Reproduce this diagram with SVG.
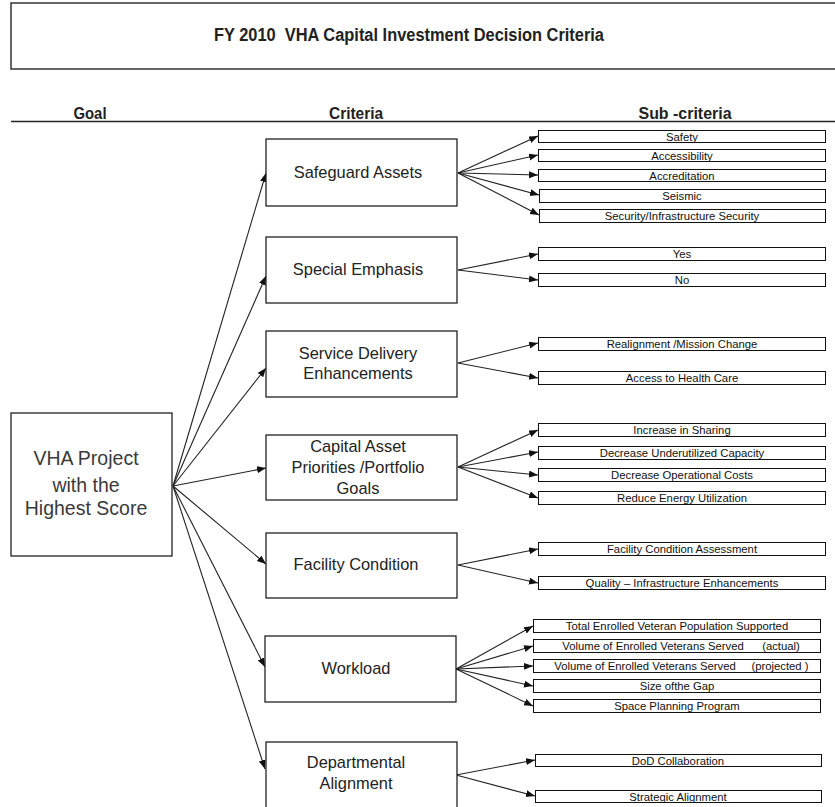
<svg xmlns="http://www.w3.org/2000/svg" width="835" height="807" viewBox="0 0 835 807">
<style>
.box{fill:#fff;stroke:#222;stroke-width:1.3}
.sub{fill:#fff;stroke:#111;stroke-width:1}
.hd{font-family:"Liberation Sans Narrow","Liberation Sans",Arial,sans-serif;font-weight:bold;fill:#222;text-anchor:middle}
.cr{font-family:"Liberation Sans",Arial,sans-serif;font-size:16.4px;fill:#222;text-anchor:middle}
.gl{font-family:"Liberation Sans",Arial,sans-serif;font-size:19.5px;fill:#3a3a3a;text-anchor:middle}
.st{font-family:"Liberation Sans",Arial,sans-serif;font-size:11.3px;fill:#111;text-anchor:middle}
.cn line{stroke:#222;stroke-width:1.1;marker-end:url(#ah)}
</style>
<defs>
<marker id="ah" markerUnits="userSpaceOnUse" markerWidth="10" markerHeight="8" refX="9" refY="3.5" orient="auto">
<path d="M0,0 L9,3.5 L0,7 z" fill="#111"/>
</marker>
</defs>
<rect width="835" height="807" fill="#fff"/>
<g id="title">
<rect x="11" y="3" width="830" height="66" fill="#fff" stroke="#333" stroke-width="1.5"/>
<text class="hd" x="409" y="41" font-size="17.5" textLength="390" lengthAdjust="spacingAndGlyphs" xml:space="preserve">FY 2010  VHA Capital Investment Decision Criteria</text>
</g>
<g id="headers">
<text class="hd" x="90" y="119" font-size="16" textLength="33" lengthAdjust="spacingAndGlyphs">Goal</text>
<text class="hd" x="356" y="119" font-size="16" textLength="54" lengthAdjust="spacingAndGlyphs">Criteria</text>
<text class="hd" x="685" y="119" font-size="16" textLength="93" lengthAdjust="spacingAndGlyphs">Sub -criteria</text>
<line x1="11" y1="121.5" x2="835" y2="121.5" stroke="#222" stroke-width="1.6"/>
</g>
<g class="cn" id="connectors">
<line x1="173" y1="486" x2="266" y2="173"/>
<line x1="173" y1="486" x2="266" y2="276"/>
<line x1="173" y1="486" x2="266" y2="368"/>
<line x1="173" y1="486" x2="266" y2="468"/>
<line x1="173" y1="486" x2="266" y2="564"/>
<line x1="173" y1="486" x2="265" y2="667"/>
<line x1="173" y1="486" x2="265" y2="769"/>
<line x1="458" y1="173" x2="538" y2="136"/>
<line x1="458" y1="173" x2="538" y2="155"/>
<line x1="458" y1="173" x2="538" y2="175"/>
<line x1="458" y1="173" x2="539" y2="195"/>
<line x1="458" y1="173" x2="539" y2="215"/>
<line x1="458" y1="270" x2="538" y2="254"/>
<line x1="458" y1="270" x2="538" y2="280"/>
<line x1="458" y1="363" x2="538" y2="343"/>
<line x1="458" y1="363" x2="538" y2="378"/>
<line x1="458" y1="467" x2="538" y2="430"/>
<line x1="458" y1="467" x2="538" y2="452"/>
<line x1="458" y1="467" x2="538" y2="475"/>
<line x1="458" y1="467" x2="538" y2="498"/>
<line x1="458" y1="565" x2="538" y2="549"/>
<line x1="458" y1="565" x2="538" y2="583"/>
<line x1="456" y1="669" x2="533" y2="626"/>
<line x1="456" y1="669" x2="533" y2="646"/>
<line x1="456" y1="669" x2="533" y2="666"/>
<line x1="456" y1="669" x2="533" y2="686"/>
<line x1="456" y1="669" x2="533" y2="706"/>
<line x1="456" y1="775" x2="535" y2="760"/>
<line x1="456" y1="775" x2="535" y2="796"/>
</g>
<g id="goal">
<rect class="box" x="11" y="413" width="161" height="143"/>
<text class="gl" x="86" y="465">VHA Project</text>
<text class="gl" x="86" y="492">with the</text>
<text class="gl" x="86" y="515">Highest Score</text>
</g>
<g id="c-safeguard">
<rect class="box" x="266" y="139" width="191" height="67"/>
<text class="cr" x="358" y="178">Safeguard Assets</text>
</g>
<g id="c-special">
<rect class="box" x="266" y="237" width="191" height="66"/>
<text class="cr" x="358" y="275">Special Emphasis</text>
</g>
<g id="c-service">
<rect class="box" x="266" y="331" width="191" height="66"/>
<text class="cr" x="358" y="359">Service Delivery</text>
<text class="cr" x="358" y="379">Enhancements</text>
</g>
<g id="c-capital">
<rect class="box" x="266" y="435" width="191" height="65"/>
<text class="cr" x="358" y="452">Capital Asset</text>
<text class="cr" x="358" y="473">Priorities /Portfolio</text>
<text class="cr" x="358" y="494">Goals</text>
</g>
<g id="c-facility">
<rect class="box" x="266" y="533" width="191" height="65"/>
<text class="cr" x="356" y="570">Facility Condition</text>
</g>
<g id="c-workload">
<rect class="box" x="265" y="636" width="191" height="66"/>
<text class="cr" x="356" y="674">Workload</text>
</g>
<g id="c-departmental">
<rect class="box" x="266" y="742" width="191" height="70"/>
<text class="cr" x="356" y="768">Departmental</text>
<text class="cr" x="356" y="789">Alignment</text>
</g>
<g id="s-safety"><rect class="sub" x="538.5" y="130.5" width="287" height="12"/><text class="st" x="682" y="140.5">Safety</text></g>
<g id="s-accessibility"><rect class="sub" x="538.5" y="149.5" width="287" height="12"/><text class="st" x="682" y="159.5">Accessibility</text></g>
<g id="s-accreditation"><rect class="sub" x="538.5" y="169.5" width="287" height="12"/><text class="st" x="682" y="179.5">Accreditation</text></g>
<g id="s-seismic"><rect class="sub" x="539.5" y="189.5" width="286" height="13"/><text class="st" x="682" y="200">Seismic</text></g>
<g id="s-security"><rect class="sub" x="539.5" y="209.5" width="286" height="13"/><text class="st" x="682" y="220">Security/Infrastructure Security</text></g>
<g id="s-yes"><rect class="sub" x="538.5" y="247.5" width="287" height="13"/><text class="st" x="682" y="258">Yes</text></g>
<g id="s-no"><rect class="sub" x="538.5" y="273.5" width="287" height="13"/><text class="st" x="682" y="284">No</text></g>
<g id="s-realignment"><rect class="sub" x="538.5" y="337.5" width="287" height="13"/><text class="st" x="682" y="348">Realignment /Mission Change</text></g>
<g id="s-access"><rect class="sub" x="538.5" y="371.5" width="287" height="13"/><text class="st" x="682" y="382">Access to Health Care</text></g>
<g id="s-sharing"><rect class="sub" x="538.5" y="423.5" width="287" height="13"/><text class="st" x="682" y="434">Increase in Sharing</text></g>
<g id="s-underutilized"><rect class="sub" x="538.5" y="446.5" width="287" height="13"/><text class="st" x="682" y="457">Decrease Underutilized Capacity</text></g>
<g id="s-operational"><rect class="sub" x="538.5" y="468.5" width="287" height="13"/><text class="st" x="682" y="479">Decrease Operational Costs</text></g>
<g id="s-energy"><rect class="sub" x="538.5" y="491.5" width="287" height="13"/><text class="st" x="682" y="502">Reduce Energy Utilization</text></g>
<g id="s-fca"><rect class="sub" x="538.5" y="542.5" width="287" height="13"/><text class="st" x="682" y="553">Facility Condition Assessment</text></g>
<g id="s-quality"><rect class="sub" x="538.5" y="576.5" width="287" height="13"/><text class="st" x="682" y="587">Quality  – Infrastructure Enhancements</text></g>
<g id="s-total"><rect class="sub" x="533.5" y="619.5" width="287" height="13"/><text class="st" x="677" y="630">Total Enrolled  Veteran Population  Supported</text></g>
<g id="s-actual"><rect class="sub" x="533.5" y="639.5" width="287" height="13"/><text class="st" y="650"><tspan x="653">Volume of Enrolled Veterans Served</tspan><tspan x="781">(actual)</tspan></text></g>
<g id="s-projected"><rect class="sub" x="533.5" y="659.5" width="287" height="13"/><text class="st" y="670"><tspan x="645">Volume of Enrolled Veterans Served</tspan><tspan x="780">(projected )</tspan></text></g>
<g id="s-gap"><rect class="sub" x="533.5" y="679.5" width="287" height="13"/><text class="st" x="677" y="690">Size ofthe Gap</text></g>
<g id="s-space"><rect class="sub" x="533.5" y="699.5" width="287" height="13"/><text class="st" x="677" y="710">Space Planning  Program</text></g>
<g id="s-dod"><rect class="sub" x="535.5" y="754.5" width="286" height="12"/><text class="st" x="678" y="764.5">DoD Collaboration</text></g>
<g id="s-strategic"><rect class="sub" x="535.5" y="790.5" width="286" height="12"/><text class="st" x="678" y="800.5">Strategic Alignment</text></g>
</svg>
